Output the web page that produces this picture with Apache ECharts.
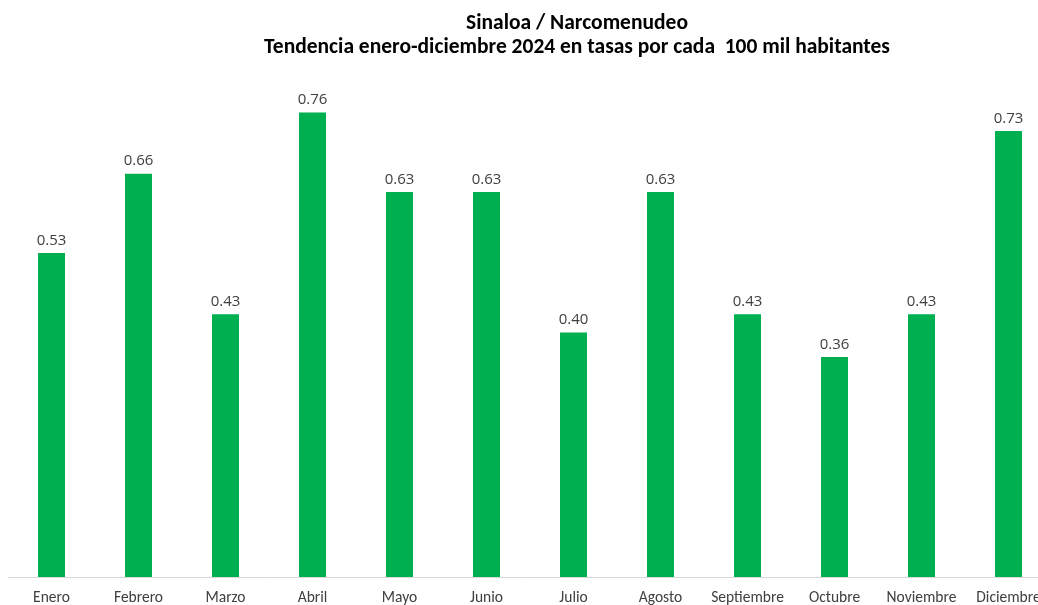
<!DOCTYPE html>
<html>
<head>
<meta charset="utf-8">
<script src="https://cdn.jsdelivr.net/npm/echarts@6/dist/echarts.min.js"></script>
<style>
  html, body { margin: 0; padding: 0; background: #ffffff; }
  #chart { width: 1038px; height: 605px; }
</style>
</head>
<body>
<div id="chart"></div>
<script>
// Monthly narcomenudeo rates, Sinaloa 2024 (per 100k inhabitants)
const months = ['Enero', 'Febrero', 'Marzo', 'Abril', 'Mayo', 'Junio', 'Julio', 'Agosto', 'Septiembre', 'Octubre', 'Noviembre', 'Diciembre'];
const rates = [0.53, 0.66, 0.43, 0.76, 0.63, 0.63, 0.40, 0.63, 0.43, 0.36, 0.43, 0.73];
const titleLine1 = 'Sinaloa / Narcomenudeo';
const titleLine2 = 'Tendencia enero-diciembre 2024 en tasas por cada  100 mil habitantes';

const sansFont = 'Carlito, Lato, sans-serif';
const chart = echarts.init(document.getElementById('chart'), null, { renderer: 'canvas' });

chart.setOption({
  animation: false,
  backgroundColor: '#ffffff',
  title: [
    {
      text: titleLine1,
      left: 572, top: 8, textAlign: 'center',
      textStyle: { fontFamily: sansFont, fontWeight: 'bold', fontSize: 21.5, color: '#000000' }
    },
    {
      text: titleLine2,
      left: 572, top: 32, textAlign: 'center',
      textStyle: { fontFamily: sansFont, fontWeight: 'bold', fontSize: 21.5, color: '#000000' }
    }
  ],
  grid: { left: 8, top: 27, width: 1044, height: 550, outerBoundsMode: 'none', containLabel: false },
  xAxis: {
    type: 'category',
    data: months,
    axisLine: { show: true, lineStyle: { color: '#d9d9d9', width: 1 } },
    axisTick: { show: false },
    axisLabel: { interval: 0, hideOverlap: false, fontFamily: sansFont, fontSize: 15.5, color: '#404040', margin: 13 }
  },
  yAxis: {
    type: 'value',
    min: 0, max: 0.9,
    show: false,
    splitLine: { show: false }
  },
  series: [{
    type: 'bar',
    data: rates,
    barWidth: 27,
    itemStyle: { color: '#00b050' },
    label: {
      show: true,
      position: 'top',
      distance: 5,
      formatter: p => p.value.toFixed(2),
      fontFamily: '"Open Sans", sans-serif',
      fontSize: 15,
      color: '#404040'
    }
  }]
});
</script>
</body>
</html>
